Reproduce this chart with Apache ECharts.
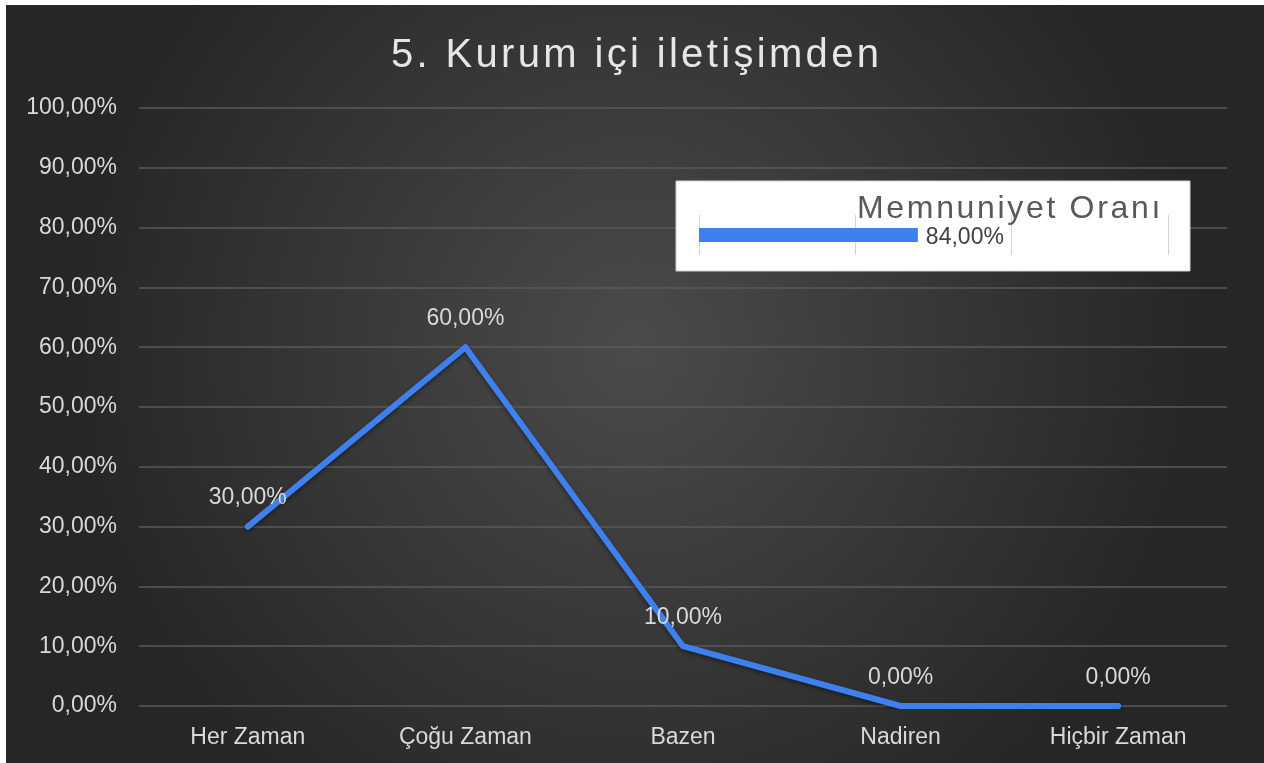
<!DOCTYPE html>
<html>
<head>
<meta charset="utf-8">
<script src="https://cdn.jsdelivr.net/npm/echarts@6/dist/echarts.min.js"></script>
<style>
  html, body { margin: 0; padding: 0; background: #fff; }
  #chart { position: absolute; left: 6px; top: 5px; width: 1258px; height: 758px; }
</style>
</head>
<body>
<div id="chart"></div>
<script>
// veriler
var categories = ["Her Zaman", "Çoğu Zaman", "Bazen", "Nadiren", "Hiçbir Zaman"];
var values = [30, 60, 10, 0, 0];
var yTicks = [0, 10, 20, 30, 40, 50, 60, 70, 80, 90, 100];
var satisfactionName = ["Memnuniyet Oranı"];
var satisfaction = [84];

function pct(v) {
  return v.toFixed(2).replace(".", ",") + "%";
}
function spaced(s) {
  return s.split("").join("\u200A");
}

var chart = echarts.init(document.getElementById("chart"));
chart.setOption({
  backgroundColor: {
    type: "radial", x: 0.5, y: 0.45, r: 0.75,
    colorStops: [
      { offset: 0, color: "#4b4b4b" },
      { offset: 1, color: "#262626" }
    ]
  },
  title: [
    {
      text: spaced("5. Kurum içi iletişimden"),
      left: "center",
      top: 26,
      textStyle: { color: "#e6e6e6", fontSize: 40, fontWeight: "normal", fontFamily: "Liberation Sans" }
    }
  ],
  graphic: [
    {
      type: "rect",
      z: 1,
      shape: { x: 670, y: 176, width: 514, height: 90 },
      style: { fill: "#ffffff", stroke: "#d0d0d0", lineWidth: 1 }
    },
    {
      type: "text",
      z: 10,
      left: 851,
      top: 188,
      style: {
        text: spaced(satisfactionName[0]),
        fill: "#595959",
        font: "32px 'Liberation Sans'"
      }
    }
  ],
  grid: [
    { left: 133, top: 103, width: 1088, height: 598 },
    { left: 693, top: 210, width: 469, height: 40, z: 5 }
  ],
  xAxis: [
    {
      gridIndex: 0,
      type: "category",
      data: categories,
      boundaryGap: true,
      axisLine: { show: false },
      axisTick: { show: false },
      axisLabel: { color: "#d9d9d9", fontSize: 23, margin: 20, fontFamily: "Liberation Sans" }
    },
    {
      gridIndex: 1,
      type: "value",
      min: 0, max: 1.8, interval: 0.6,
      axisLine: { show: false },
      axisTick: { show: false },
      axisLabel: { show: false },
      splitLine: { show: true, lineStyle: { color: "#d4d4d4", width: 1 } },
      z: 5
    }
  ],
  yAxis: [
    {
      gridIndex: 0,
      type: "value",
      min: yTicks[0], max: yTicks[yTicks.length - 1], interval: 10,
      axisLine: { show: false },
      axisTick: { show: false },
      axisLabel: {
        color: "#d9d9d9", fontSize: 23, margin: 22, fontFamily: "Liberation Sans",
        formatter: function (v) { return pct(v); }
      },
      splitLine: { lineStyle: { color: "#5a5a5a", width: 1.5 } }
    },
    {
      gridIndex: 1,
      type: "category",
      data: satisfactionName,
      axisLine: { show: false },
      axisTick: { show: false },
      axisLabel: { show: false },
      z: 5
    }
  ],
  series: [
    {
      type: "line",
      xAxisIndex: 0, yAxisIndex: 0,
      data: values,
      symbol: "circle",
      symbolSize: 2,
      showSymbol: true,
      itemStyle: { color: "rgba(0,0,0,0)" },
      lineStyle: {
        color: "#3f80f0", width: 6, cap: "round", join: "round",
        shadowColor: "rgba(0,0,0,0.45)", shadowBlur: 4, shadowOffsetY: 2
      },
      label: {
        show: true,
        position: "top",
        distance: 16,
        color: "#d9d9d9",
        fontSize: 23,
        fontFamily: "Liberation Sans",
        formatter: function (p) { return pct(p.value); }
      },
      labelLayout: { hideOverlap: false },
      z: 3
    },
    {
      type: "bar",
      xAxisIndex: 1, yAxisIndex: 1,
      data: satisfaction.map(function (v) { return v / 100; }),
      barWidth: 14,
      itemStyle: { color: "#3f80f0" },
      label: {
        show: true,
        position: "right",
        distance: 8,
        offset: [0, 3],
        color: "#404040",
        fontSize: 23,
        fontFamily: "Liberation Sans",
        formatter: function (p) { return pct(p.value * 100); }
      },
      z: 6
    }
  ]
});
</script>
</body>
</html>
